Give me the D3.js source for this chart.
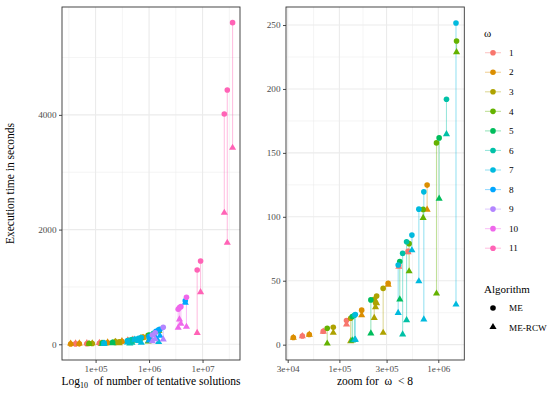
<!DOCTYPE html>
<html lang="en">
<head>
<meta charset="utf-8">
<title>Execution time of ME and ME-RCW</title>
<script src="https://cdn.jsdelivr.net/npm/d3@7"></script>
<style>
  body { margin: 0; background: #fff; }
  text { font-family: "Liberation Serif", "DejaVu Serif", serif; }
</style>
</head>
<body>
<script>
// one entry per instance: omega level, number of tentative solutions, seconds for ME and ME-RCW
var omegaLevels = ["1", "2", "3", "4", "5", "6", "7", "8", "9", "10", "11"];
var omegaColors = ["#F8766D", "#DB8E00", "#AEA200", "#64B200", "#00BD5C", "#00C1A7",
                   "#00BADE", "#00A6FF", "#B385FF", "#EF67EB", "#FF63B6"];
var algorithms = ["ME", "ME-RCW"];

var omega = [
  "1", "1", "1", "1", "1",
  "2", "2", "2", "2", "2",
  "3", "3", "3", "3", "3", "3",
  "4", "4", "4", "4", "4",
  "5", "5", "5", "5",
  "6", "6", "6", "6",
  "7", "7", "7", "7", "7", "7",
  "8", "8", "8", "8",
  "9", "9", "9",
  "10", "10", "10", "10",
  "11", "11", "11", "11", "11"
];
var solutions = [
  42200, 68700, 118000, 399000, 495000,
  34200, 49600, 168000, 311000, 771000,
  86700, 130000, 225000, 232000, 238000, 277000,
  75300, 507000, 703000, 959000, 1530000,
  135000, 208000, 408000, 1020000,
  142000, 436000, 478000, 1210000,
  145000, 393000, 541000, 636000, 714000, 1510000,
  1000000, 1350000, 1600000, 4750000,
  1150000, 1300000, 1840000,
  3500000, 3700000, 3930000, 5000000,
  7930000, 9180000, 25500000, 29000000, 36400000
];
var timeME = [
  6.8, 10.5, 18.8, 62, 73,
  5.6, 7.9, 27, 48, 124.8,
  13.6, 20.6, 35.5, 33, 38, 44,
  12.8, 79, 105.8, 157.8, 237.5,
  22, 35, 65, 161.7,
  23, 71.4, 80.5, 192,
  23.5, 62.3, 85.7, 106, 119.5, 251.6,
  133, 225, 262, 760,
  160, 200, 296,
  610, 640, 656, 819,
  1296, 1452, 4016, 4434, 5608
];
var timeRCW = [
  6.3, 9.8, 15.4, 60.5, 71.9,
  5.0, 7.4, 22.7, 46.5, 105.2,
  8.9, 2.4, 20.6, 29, 32, 8.9,
  0.5, 57, 98.7, 39.6, 228.4,
  3, 8.4, 35, 113.8,
  3.2, 7.6, 18.8, 164.3,
  3.5, 24.5, 73.4, 49.2, 19.3, 31,
  60, 100, 140, 715,
  45, 80, 75,
  279, 424, 349, 296,
  191, 900, 2284, 1761, 3417
];

// axis breaks
var leftXTicks = [1e5, 1e6, 1e7];
var leftXLabels = ["1e+05", "1e+06", "1e+07"];
var leftXMinor = [31623, 316228, 3162278, 31622777];
var leftYTicks = [0, 2000, 4000];
var leftYMinor = [1000, 3000, 5000];
var rightXTicks = [3e4, 1e5, 3e5, 1e6];
var rightXLabels = ["3e+04", "1e+05", "3e+05", "1e+06"];
var rightXMinor = [54772, 173205, 547723, 1732051];
var rightYTicks = [0, 50, 100, 150, 200, 250];
var rightYMinor = [25, 75, 125, 175, 225];

var w = 550, h = 393;
var top_ = 7, bottom = 360;

var data = omega.map(function(o, i) {
  return { omega: o, n: solutions[i], me: timeME[i], rcw: timeRCW[i] };
});

var color = d3.scaleOrdinal().domain(omegaLevels).range(omegaColors);
var triangle = d3.symbol().type(d3.symbolTriangle).size(22);

var svg = d3.select("body").append("svg")
  .attr("width", w)
  .attr("height", h);

function panel(opts) {
  var x = d3.scaleLog().domain(opts.xDomain).range([opts.left, opts.right]);
  var y = d3.scaleLinear().domain(opts.yDomain).range([bottom, top_]);
  var g = svg.append("g");

  // grid
  g.selectAll(".gxm").data(opts.xMinor).enter().append("line")
    .attr("x1", function(d) { return x(d); }).attr("x2", function(d) { return x(d); })
    .attr("y1", top_).attr("y2", bottom)
    .attr("stroke", "#EBEBEB").attr("stroke-width", 0.55);
  g.selectAll(".gym").data(opts.yMinor).enter().append("line")
    .attr("y1", function(d) { return y(d); }).attr("y2", function(d) { return y(d); })
    .attr("x1", opts.left).attr("x2", opts.right)
    .attr("stroke", "#EBEBEB").attr("stroke-width", 0.55);
  g.selectAll(".gx").data(opts.xTicks).enter().append("line")
    .attr("x1", function(d) { return x(d); }).attr("x2", function(d) { return x(d); })
    .attr("y1", top_).attr("y2", bottom)
    .attr("stroke", "#EBEBEB").attr("stroke-width", 1.1);
  g.selectAll(".gy").data(opts.yTicks).enter().append("line")
    .attr("y1", function(d) { return y(d); }).attr("y2", function(d) { return y(d); })
    .attr("x1", opts.left).attr("x2", opts.right)
    .attr("stroke", "#EBEBEB").attr("stroke-width", 1.1);

  var rows = opts.rows;

  // segments joining ME and ME-RCW
  g.selectAll(".seg").data(rows).enter().append("line")
    .attr("x1", function(d) { return x(d.n); })
    .attr("x2", function(d) { return x(d.n); })
    .attr("y1", function(d) { return y(d.me); })
    .attr("y2", function(d) { return y(d.rcw); })
    .attr("stroke", function(d) { return color(d.omega); })
    .attr("stroke-opacity", 0.4)
    .attr("stroke-width", 1.1);

  rows.forEach(function(d) {
    g.append("circle")
      .attr("cx", x(d.n))
      .attr("cy", y(d.me))
      .attr("r", 2.8)
      .attr("fill", color(d.omega));
    g.append("path")
      .attr("d", triangle)
      .attr("transform", "translate(" + x(d.n) + "," + (y(d.rcw) - 0.5) + ")")
      .attr("fill", color(d.omega));
  });

  // axes
  var xAxis = d3.axisBottom(x)
    .tickValues(opts.xTicks)
    .tickFormat(function(d, i) { return opts.xLabels[i]; })
    .tickSizeOuter(0).tickSize(3).tickPadding(2);
  var ax = g.append("g").attr("transform", "translate(0," + bottom + ")").call(xAxis);
  var yAxis = d3.axisLeft(y)
    .tickValues(opts.yTicks)
    .tickFormat(d3.format("d"))
    .tickSizeOuter(0).tickSize(3).tickPadding(2.5);
  var ay = g.append("g").attr("transform", "translate(" + opts.left + ",0)").call(yAxis);
  [ax, ay].forEach(function(a) {
    a.select(".domain").remove();
    a.selectAll(".tick line").attr("stroke", "#333333").attr("stroke-width", 0.9);
    a.selectAll(".tick text")
      .attr("fill", "#4D4D4D")
      .attr("font-size", "9.2px");
  });

  // border
  g.append("rect")
    .attr("x", opts.left).attr("y", top_)
    .attr("width", opts.right - opts.left).attr("height", bottom - top_)
    .attr("fill", "none").attr("stroke", "#333333").attr("stroke-width", 0.9);

  return g;
}

var left = panel({
  left: 62, right: 240,
  xDomain: [Math.pow(10, 4.372), Math.pow(10, 7.70)],
  yDomain: [-274, 5881],
  xTicks: leftXTicks, xLabels: leftXLabels, xMinor: leftXMinor,
  yTicks: leftYTicks, yMinor: leftYMinor,
  rows: data
});

var right = panel({
  left: 286, right: 464.3,
  xDomain: [Math.pow(10, 4.460), Math.pow(10, 6.263)],
  yDomain: [-12.0, 264.1],
  xTicks: rightXTicks, xLabels: rightXLabels, xMinor: rightXMinor,
  yTicks: rightYTicks, yMinor: rightYMinor,
  rows: data.filter(function(d) { return +d.omega < 8; })
});

// axis titles
var xt = svg.append("text")
  .attr("x", 151).attr("y", 385)
  .attr("text-anchor", "middle")
  .attr("font-size", "11.5px");
xt.append("tspan").text("Log");
xt.append("tspan").attr("font-size", "8px").attr("dy", 3).text("10");
xt.append("tspan").attr("dy", -3).style("white-space", "pre").text("  of number of tentative solutions");

svg.append("text")
  .attr("x", 375).attr("y", 385)
  .attr("text-anchor", "middle")
  .attr("font-size", "11.5px")
  .style("white-space", "pre")
  .text("zoom for  \u03c9  < 8");

svg.append("text")
  .attr("transform", "translate(14," + ((top_ + bottom) / 2) + ") rotate(-90)")
  .attr("text-anchor", "middle")
  .attr("font-size", "11.5px")
  .text("Execution time in seconds");

// legend
var legend = svg.append("g");
legend.append("text")
  .attr("x", 484).attr("y", 37)
  .attr("font-size", "11px")
  .text("\u03c9");

legend.selectAll(".okey").data(omegaLevels).enter().append("g")
  .attr("transform", function(d, i) { return "translate(493," + (52.7 + i * 19.55) + ")"; })
  .each(function(d) {
    var k = d3.select(this);
    k.append("line").attr("x1", -8).attr("x2", 8)
      .attr("stroke", color(d)).attr("stroke-opacity", 0.4).attr("stroke-width", 1.1);
    k.append("circle").attr("r", 2.8).attr("fill", color(d));
    k.append("text").attr("x", 16).attr("dy", "0.35em")
      .attr("font-size", "9.2px").text(d);
  });

legend.append("text")
  .attr("x", 484).attr("y", 293)
  .attr("font-size", "11px")
  .text("Algorithm");

legend.selectAll(".akey").data(algorithms).enter().append("g")
  .attr("transform", function(d, i) { return "translate(493," + (308 + i * 19.55) + ")"; })
  .each(function(d, i) {
    var k = d3.select(this);
    if (i === 0) {
      k.append("circle").attr("r", 2.8).attr("fill", "#000");
    } else {
      k.append("path").attr("d", triangle).attr("transform", "translate(0,-0.5)").attr("fill", "#000");
    }
    k.append("text").attr("x", 16).attr("dy", "0.35em")
      .attr("font-size", "9.2px").text(d);
  });
</script>
</body>
</html>
